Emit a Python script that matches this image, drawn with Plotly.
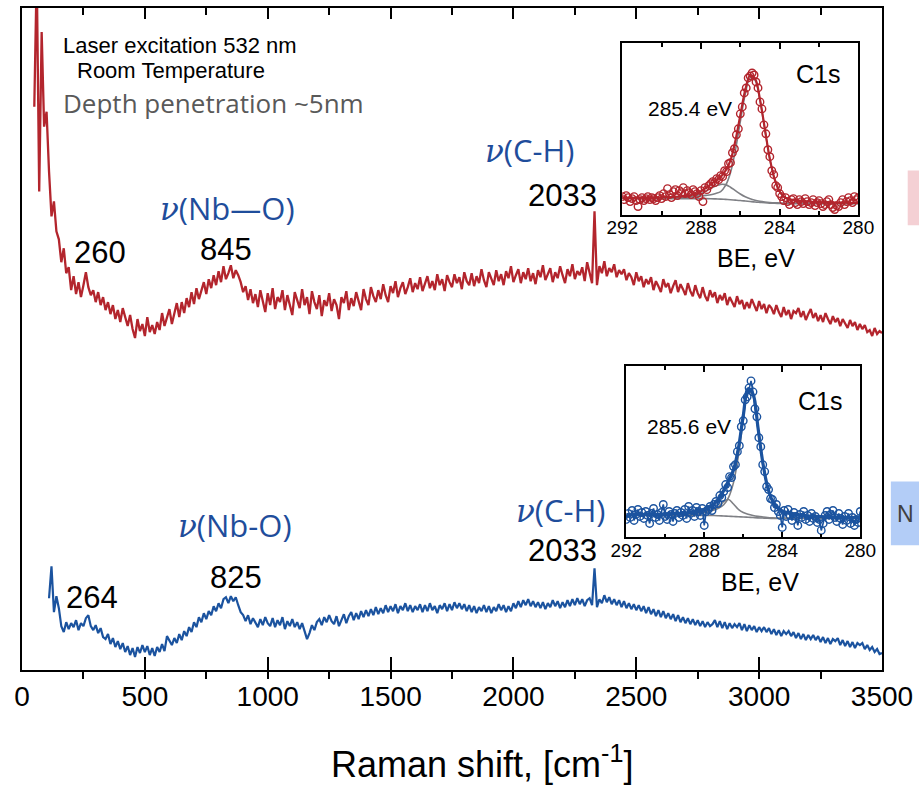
import numpy as np
import plotly.graph_objects as go

# ---------------- Raman spectra (10 cm-1 grid) ----------------
RED_START, BLUE_START, SHIFT_END, SHIFT_STEP = 50, 110, 3500, 10

red_intensity = [
    565, 700, 480, 640, 545, 560, 500, 455, 470, 440,
    432, 409, 423, 398, 404, 381, 395, 377, 389, 374,
    386, 399, 384, 376, 381, 369, 379, 366, 374, 361,
    369, 357, 366, 352, 361, 349, 363, 354, 345, 356,
    342, 333, 352, 340, 347, 335, 354, 339, 346, 337,
    349, 341, 358, 345, 353, 362, 347, 359, 368, 354,
    369, 358, 373, 364, 379, 367, 383, 372, 380, 389,
    377, 392, 383, 396, 386, 400, 389, 405, 392, 398,
    406, 393, 401, 396, 389, 379, 385, 371, 382, 368,
    377, 364, 381, 370, 359, 378, 366, 383, 362, 374,
    369, 381, 361, 376, 367, 356, 379, 370, 363, 382,
    366, 374, 357, 380, 369, 362, 376, 355, 371, 365,
    378, 360, 372, 366, 352, 374, 368, 380, 361, 373,
    365, 379, 370, 361, 382, 372, 366, 384, 375, 369,
    381, 372, 387, 376, 369, 385, 378, 390, 374, 383,
    389, 377, 384, 393, 379, 388, 382, 394, 380, 387,
    395, 383, 390, 381, 397, 386, 392, 380, 396, 389,
    384, 397, 388, 394, 382, 399, 390, 386, 398, 385,
    395, 388, 402, 391, 384, 399, 393, 386, 401, 390,
    397, 386, 400, 393, 405, 389, 396, 402, 388, 399,
    392, 403, 390, 398, 387, 401, 394, 406, 391, 397,
    403, 389, 399, 393, 405, 396, 388, 402, 395, 407,
    392, 400, 396, 404, 390, 409, 398, 388, 460, 386,
    405, 398, 410, 395, 403, 399, 407, 394, 401, 397,
    402, 391, 398, 394, 386, 399, 390, 395, 384, 392,
    387, 394, 381, 390, 385, 379, 392, 384, 388, 378,
    385, 391, 379, 387, 382, 376, 388, 380, 375, 386,
    378, 373, 384, 375, 370, 381, 374, 379, 368, 376,
    371, 378, 366, 374, 369, 364, 375, 367, 371, 362,
    369, 363, 372, 365, 360, 370, 362, 367, 358, 366,
    363, 357, 366, 359, 354, 364, 356, 361, 352, 360,
    358, 363, 354, 360, 351, 357, 362, 353, 358, 350,
    356, 349, 358, 352, 347, 355, 349, 353, 345, 352,
    348, 343, 351, 345, 349, 341, 347, 342, 346, 339,
    341, 335, 343, 337, 340, 338,
]

blue_intensity = [
    72, 104, 58, 74, 62, 44, 38, 48, 41, 47,
    43, 50, 40, 47, 44, 52, 55, 44, 40, 45,
    37, 42, 33, 31, 36, 26, 32, 23, 29, 21,
    27, 18, 24, 15, 22, 13, 23, 17, 25, 18,
    24, 15, 22, 14, 23, 18, 26, 19, 34, 29,
    25, 32, 27, 36, 30, 39, 34, 43, 38, 48,
    43, 53, 48, 57, 51, 59, 55, 64, 59, 67,
    62, 71, 73, 67, 74, 69, 73, 65, 58, 55,
    49, 55, 46, 52, 48, 43, 51, 45, 53, 47,
    44, 52, 43, 50, 45, 53, 41, 49, 44, 51,
    43, 48, 41, 47, 39, 31, 37, 45, 40, 48,
    51, 45, 53, 48, 55, 49, 46, 54, 44, 51,
    56, 47, 54, 58, 50, 57, 51, 59, 53, 60,
    54, 61, 55, 63, 56, 62, 57, 65, 58, 64,
    59, 66, 57, 64, 60, 67, 59, 65, 58, 64,
    60, 66, 58, 65, 59, 67, 60, 64, 57, 65,
    61, 67, 59, 66, 60, 68, 62, 67, 61, 66,
    59, 65, 58, 64, 57, 63, 59, 65, 58, 64,
    57, 63, 59, 66, 60, 65, 58, 64, 59, 67,
    62, 69, 63, 70, 65, 71, 64, 69, 63, 68,
    62, 68, 61, 67, 63, 70, 64, 69, 62, 68,
    63, 70, 64, 71, 65, 72, 66, 71, 64, 70,
    72, 65, 102, 63, 71, 67, 75, 68, 73, 66,
    71, 65, 70, 63, 69, 62, 67, 61, 66, 60,
    65, 59, 64, 57, 63, 56, 61, 54, 60, 53,
    59, 52, 57, 51, 56, 49, 55, 48, 53, 47,
    52, 46, 51, 45, 50, 44, 49, 43, 48, 44,
    46, 50, 43, 49, 42, 48, 41, 47, 42, 46,
    43, 47, 40, 46, 39, 45, 40, 44, 38, 43,
    39, 43, 38, 42, 36, 41, 35, 40, 34, 39,
    36, 39, 34, 38, 32, 37, 31, 36, 30, 35,
    31, 35, 30, 34, 28, 33, 27, 32, 26, 31,
    29, 32, 25, 30, 24, 29, 23, 28, 22, 27,
    25, 27, 21, 25, 20, 23, 18, 21, 16, 17,
]

red_shift = np.arange(RED_START, SHIFT_END + 1, SHIFT_STEP)
blue_shift = np.arange(BLUE_START, SHIFT_END + 1, SHIFT_STEP)

# ---------------- XPS C1s insets ----------------
# measured points on a 0.1 eV grid, fit components on a 0.25 eV grid
be_points = np.round(np.arange(292.0, 279.95, -0.1), 2)
be_model = np.round(np.arange(292.0, 279.99, -0.25), 2)

red_xps_counts = [
    18, 15, 19, 17, 13, 16, 18, 14, 8, 15,
    17, 14, 16, 18, 15, 17, 16, 14, 17, 19,
    16, 21, 18, 26, 20, 17, 23, 25, 19, 24,
    22, 27, 21, 24, 22, 20, 25, 23, 21, 18,
    24, 13, 27, 25, 29, 31, 33, 32, 36, 35,
    39, 38, 44, 43, 51, 52, 62, 66, 80, 86,
    101, 108, 122, 127, 137, 139, 142, 140, 133, 127,
    113, 106, 90, 81, 65, 58, 44, 40, 29, 27,
    21, 18, 14, 17, 13, 10, 15, 16, 12, 10,
    15, 13, 11, 16, 13, 10, 12, 15, 9, 12,
    14, 11, 8, 10, 13, 15, 10, 7, 5, 9,
    8, 12, 15, 10, 13, 17, 14, 12, 18, 15,
    17,
]
red_xps_background = [16] * 18 + [
    15.9, 15.7, 15.5, 15.2, 14.9, 14.5, 14.1, 13.6, 13.1, 12.6,
    12.2, 11.8, 11.5, 11.3, 11.2,
] + [11] * 16
red_xps_main = [
    0.3, 0.35, 0.4, 0.45, 0.5, 0.55, 0.6, 0.7, 0.8, 0.9,
    1.0, 1.1, 1.3, 1.5, 1.8, 2.1, 2.6, 3.2,
    4.0, 5.5, 7.5, 14, 27, 50, 79, 107, 124, 122,
    102, 73, 44, 23.5, 11.5,
    6, 4, 3.2, 2.6, 2.2, 1.8, 1.5, 1.3, 1.1, 1.0,
    0.9, 0.8, 0.7, 0.6, 0.5, 0.45,
]
red_xps_minor = [
    0.3, 0.3, 0.3, 0.3, 0.35, 0.35, 0.4, 0.45, 0.5, 0.55,
    0.6, 0.75, 0.9, 1.2, 1.8, 3.0, 4.8, 7.5,
    10.5, 13, 14.8, 14.8, 12.5, 9.5, 6.5, 4.2, 2.7, 1.8,
    1.2, 0.8, 0.6, 0.5, 0.45,
    0.4, 0.4, 0.35, 0.35, 0.3, 0.3, 0.3, 0.25, 0.25, 0.25,
    0.2, 0.2, 0.2, 0.2, 0.2, 0.2,
]

blue_xps_counts = [
    18, 24, 20, 27, 17, 23, 28, 21, 25, 19,
    26, 22, 14, 24, 29, 20, 23, 17, 25, 33,
    21, 18, 26, 23, 16, 24, 27, 20, 25, 22,
    28, 19, 31, 24, 27, 21, 30, 26, 22, 29,
    12, 26, 28, 31, 27, 33, 36, 34, 42, 40,
    46, 53, 50, 61, 60, 71, 73, 86, 92, 111,
    117, 138, 141, 150, 157, 146, 129, 121, 100, 91,
    73, 66, 51, 48, 39, 38, 30, 33, 26, 22,
    10, 27, 21, 28, 22, 17, 25, 21, 12, 23,
    20, 26, 18, 22, 16, 24, 19, 21, 15, 18,
    7, 14, 22, 26, 18, 23, 27, 20, 16, 24,
    19, 13, 21, 17, 24, 14, 20, 12, 18, 15,
    26,
]
blue_xps_background = [22] * 18 + [
    21.9, 21.7, 21.5, 21.2, 21.0, 20.7, 20.5, 20.2, 19.9, 19.6,
    19.4, 19.2, 19.1, 19.0, 19.0,
] + [19] * 16
blue_xps_main = [
    0.5, 0.57, 0.62, 0.67, 0.74, 0.81, 0.9, 1.0, 1.15, 1.3,
    1.4, 1.6, 1.8, 2.1, 2.5, 3.0, 3.6, 4.5,
    5.7, 7.7, 11.3, 19, 34, 61, 97, 126, 122, 90,
    55, 30.5, 17, 10.3, 7.1,
    5.4, 4.3, 3.5, 2.9, 2.4, 2.0, 1.75, 1.5, 1.35, 1.25,
    1.1, 1.0, 0.9, 0.8, 0.73, 0.67,
]
blue_xps_minor = [
    0.3, 0.3, 0.3, 0.3, 0.3, 0.3, 0.3, 0.3, 0.3, 0.3,
    0.35, 0.4, 0.5, 0.8, 1.2, 1.8, 2.7, 4.0,
    6.0, 9.5, 14.5, 16.8, 12.5, 7.5, 4.5, 3.0, 2.1, 1.5,
    1.1, 0.8, 0.6, 0.5, 0.45,
    0.4, 0.4, 0.35, 0.35, 0.3, 0.3, 0.3, 0.25, 0.25, 0.25,
    0.2, 0.2, 0.2, 0.2, 0.2, 0.2,
]

RED = "#b3252d"
BLUE = "#1b539f"
LABEL_BLUE = "#1f4d9b"
GRAY = "#7f8085"
ARIAL = "Liberation Sans, Arial, sans-serif"
CALIBRI_LIKE = "Open Sans, sans-serif"

fig = go.Figure()

# main spectra
fig.add_trace(go.Scatter(x=red_shift, y=red_intensity, mode="lines",
                         line=dict(color=RED, width=2.3), xaxis="x", yaxis="y"))
fig.add_trace(go.Scatter(x=blue_shift, y=blue_intensity, mode="lines",
                         line=dict(color=BLUE, width=2.2), xaxis="x", yaxis="y"))
# carrier for the top tick axis
fig.add_trace(go.Scatter(x=[0, 3500], y=[0, 0], mode="lines", line=dict(width=0),
                         opacity=0, xaxis="x3", yaxis="y", hoverinfo="skip"))


def add_xps(xa, ya, counts, background, main, minor, color, fit_width, join_points):
    bg = np.array(background)
    comp_main = bg + np.array(main)
    comp_minor = bg + np.array(minor)
    envelope = bg + np.array(main) + np.array(minor)
    for comp in (bg, comp_main, comp_minor):
        fig.add_trace(go.Scatter(x=be_model, y=comp, mode="lines", line_shape="spline",
                                 line=dict(color=GRAY, width=1.6), xaxis=xa, yaxis=ya))
    fig.add_trace(go.Scatter(
        x=be_points, y=counts, mode="lines+markers" if join_points else "markers",
        line=dict(color=color, width=1.6),
        marker=dict(symbol="circle-open", size=7.5, color=color, line=dict(width=1.4, color=color)),
        xaxis=xa, yaxis=ya))
    fig.add_trace(go.Scatter(x=be_model, y=envelope, mode="lines", line_shape="spline",
                             line=dict(color=color, width=fit_width), xaxis=xa, yaxis=ya))


add_xps("x4", "y4", red_xps_counts, red_xps_background, red_xps_main, red_xps_minor,
        RED, 2.2, False)
add_xps("x5", "y5", blue_xps_counts, blue_xps_background, blue_xps_main, blue_xps_minor,
        BLUE, 3.2, True)

frame = dict(showline=True, linecolor="black", showgrid=False, zeroline=False)

inset_x = dict(frame, range=[292, 280], linewidth=1.8, mirror="ticks", ticks="inside",
               ticklen=6, tickwidth=1.5, tickcolor="black", tick0=280, dtick=4,
               minor=dict(ticks="inside", ticklen=4, tickwidth=1.5, dtick=2, tick0=280,
                          tickcolor="black"),
               tickfont=dict(family=ARIAL, size=19, color="black"), ticklabelstandoff=-5)
inset_y = dict(frame, range=[0, 172], linewidth=1.8, mirror=True, ticks="",
               showticklabels=False)

fig.update_layout(
    width=919, height=785,
    margin=dict(l=15, r=33, t=6, b=115),
    paper_bgcolor="white", plot_bgcolor="white",
    showlegend=False,
    xaxis=dict(frame, range=[0, 3500], linewidth=2, mirror=True,
               ticks="inside", ticklen=13, tickwidth=2, tickcolor="black",
               tick0=0, dtick=500,
               minor=dict(ticks="outside", ticklen=7, tickwidth=2, tick0=0, dtick=250,
                          tickcolor="black"),
               tickfont=dict(family=ARIAL, size=28, color="black"),
               ticklabelstandoff=0),
    xaxis3=dict(overlaying="x", anchor="y", side="top", range=[0, 3500],
                showline=False, showgrid=False, zeroline=False,
                ticks="inside", ticklen=11, tickwidth=2, tickcolor="black",
                tick0=0, dtick=500, showticklabels=False,
                minor=dict(ticks="inside", ticklen=7, tickwidth=2, tick0=0, dtick=250,
                           tickcolor="black")),
    yaxis=dict(frame, range=[0, 664], linewidth=2, mirror=True, ticks="",
               showticklabels=False),
    xaxis4=dict(inset_x, domain=[0.698, 0.9725], anchor="y4"),
    yaxis4=dict(inset_y, domain=[0.688, 0.947], anchor="x4"),
    xaxis5=dict(inset_x, domain=[0.7026, 0.9747], anchor="y5"),
    yaxis5=dict(inset_y, domain=[0.2003, 0.4593], anchor="x5"),
)

nu = "<span style=\"font-family:'DejaVu Serif'\"><i>ν</i></span>"

annotations = [
    # peak positions and assignments
    dict(x=317, y=419, text="260", font=dict(family=ARIAL, size=31, color="black")),
    dict(x=832, y=422, text="845", font=dict(family=ARIAL, size=31, color="black")),
    dict(x=836, y=463, text=nu + "(Nb—O)", font=dict(family=CALIBRI_LIKE, size=31, color=LABEL_BLUE)),
    dict(x=2069, y=522, text=nu + "(C-H)", font=dict(family=CALIBRI_LIKE, size=31, color=LABEL_BLUE)),
    dict(x=2198, y=476, text="2033", font=dict(family=ARIAL, size=31, color="black")),
    dict(x=285, y=73, text="264", font=dict(family=ARIAL, size=31, color="black")),
    dict(x=872, y=93, text="825", font=dict(family=ARIAL, size=31, color="black")),
    dict(x=868, y=145, text=nu + "(Nb-O)", font=dict(family=CALIBRI_LIKE, size=31, color=LABEL_BLUE)),
    dict(x=2194, y=160, text=nu + "(C-H)", font=dict(family=CALIBRI_LIKE, size=31, color=LABEL_BLUE)),
    dict(x=2198, y=120, text="2033", font=dict(family=ARIAL, size=31, color="black")),
]
for a in annotations:
    a.update(xref="x", yref="y", showarrow=False, xanchor="center", yanchor="middle")
    fig.add_annotation(**a)

# measurement conditions
fig.add_annotation(x=0.0448, y=0.943, xref="paper", yref="paper", text="Laser excitation 532 nm",
                   showarrow=False, xanchor="left", yanchor="middle",
                   font=dict(family=ARIAL, size=22, color="black"))
fig.add_annotation(x=0.062, y=0.906, xref="paper", yref="paper", text="Room Temperature",
                   showarrow=False, xanchor="left", yanchor="middle",
                   font=dict(family=ARIAL, size=22, color="black"))
fig.add_annotation(x=0.0459, y=0.857, xref="paper", yref="paper", text="Depth penetration ~5nm",
                   showarrow=False, xanchor="left", yanchor="middle",
                   font=dict(family=CALIBRI_LIKE, size=26, color="#595959"))

# x-axis title
fig.add_annotation(x=0.535, y=-0.1386, xref="paper", yref="paper",
                   text="Raman shift, [cm<sup>-1</sup>]", showarrow=False,
                   xanchor="center", yanchor="middle",
                   font=dict(family=ARIAL, size=36, color="black"))

# inset labels
for xa, ya, peak_text, peak_x, peak_y, c_x, c_y in [
    ("x4", "y4", "285.4 eV", 288.54, 106, 282.06, 141),
    ("x5", "y5", "285.6 eV", 288.76, 111, 282.08, 137),
]:
    fig.add_annotation(x=peak_x, y=peak_y, xref=xa, yref=ya, text=peak_text, showarrow=False,
                       font=dict(family=ARIAL, size=21, color="black"))
    fig.add_annotation(x=c_x, y=c_y, xref=xa, yref=ya, text="C1s", showarrow=False,
                       font=dict(family=ARIAL, size=25, color="black"))
for be_x, be_y in [(0.853, 0.622), (0.8576, 0.1325)]:
    fig.add_annotation(x=be_x, y=be_y, xref="paper", yref="paper", text="BE, eV",
                       showarrow=False, xanchor="center", yanchor="middle",
                       font=dict(family=ARIAL, size=25, color="black"))

# legend swatches at the right edge
fig.add_shape(type="rect", xref="paper", yref="paper", x0=1.0299, x1=1.05, y0=0.6717, y1=0.7545,
              fillcolor="#f4d0d4", line=dict(width=0), layer="below")
fig.add_shape(type="rect", xref="paper", yref="paper", x0=1.0103, x1=1.05, y0=0.1883, y1=0.2846,
              fillcolor="#b3cdf7", line=dict(width=0), layer="below")
fig.add_annotation(x=1.0155, y=0.2364, xref="paper", yref="paper", text="N", showarrow=False,
                   xanchor="left", yanchor="middle",
                   font=dict(family=ARIAL, size=23, color="#404040"))

fig.write_html("out.html")
